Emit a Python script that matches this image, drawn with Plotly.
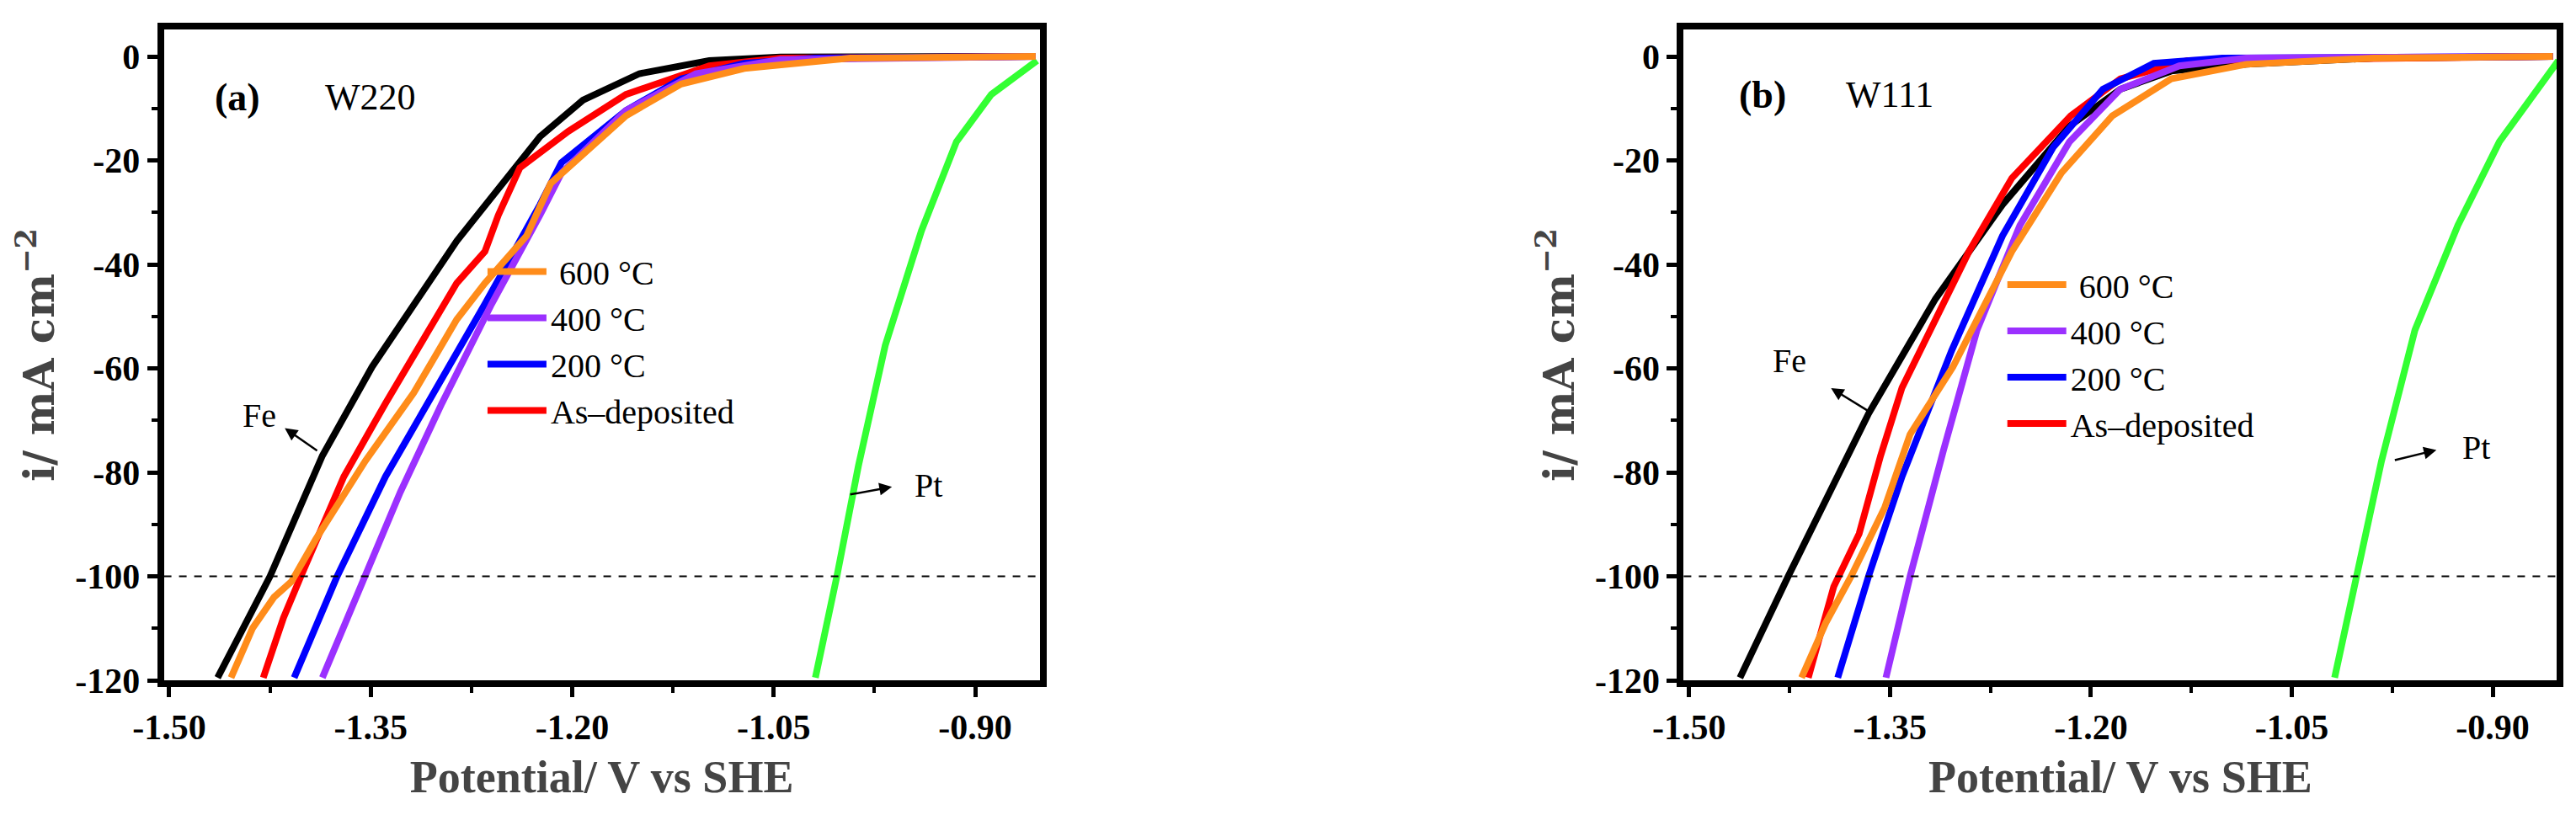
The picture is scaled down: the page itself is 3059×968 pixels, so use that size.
import plotly.graph_objects as go
from plotly.subplots import make_subplots

# panel (a) W220
a_fe_x = [-1.464, -1.425, -1.386, -1.349, -1.286, -1.224, -1.192, -1.150, -1.098, -1.045, -0.855]
a_fe_y = [-119.5, -100, -76.8, -59.7, -35.5, -15.4, -8.4, -3.3, -0.8, -0.1, 0]
a_red_x = [-1.430, -1.415, -1.402, -1.388, -1.370, -1.339, -1.307, -1.286, -1.265, -1.255, -1.239, -1.203, -1.160, -1.098, -1.045, -0.855]
a_red_y = [-119.5, -108, -100, -91.8, -80.8, -66.7, -52.6, -43.6, -37.5, -30.5, -21.4, -14.4, -7.3, -1.8, -0.3, 0]
a_or_x = [-1.454, -1.438, -1.422, -1.409, -1.391, -1.354, -1.318, -1.286, -1.265, -1.234, -1.216, -1.203, -1.160, -1.119, -1.072, -0.993, -0.855]
a_or_y = [-119.5, -110, -104, -101, -92.9, -77.8, -64.7, -50.6, -43.6, -34.5, -24.4, -21.4, -11.4, -5.3, -2.3, -0.3, 0]
a_bl_x = [-1.407, -1.375, -1.339, -1.307, -1.265, -1.224, -1.208, -1.160, -1.119, -1.072, -1.019, -0.855]
a_bl_y = [-119.5, -100, -80.8, -66.7, -47.6, -28.5, -20.4, -10.4, -4.3, -1.3, -0.3, 0]
a_pu_x = [-1.386, -1.354, -1.328, -1.297, -1.260, -1.224, -1.208, -1.160, -1.108, -1.045, -0.855]
a_pu_y = [-119.5, -100, -83.8, -66.7, -47.6, -30.5, -22.4, -10.4, -3.3, -0.6, 0]
a_pt_x = [-1.019, -1.003, -0.987, -0.967, -0.940, -0.914, -0.888, -0.854]
a_pt_y = [-119.5, -100, -78.8, -55.6, -33.5, -16.4, -7.3, -0.8]

# panel (b) W111
b_fe_x = [-1.462, -1.426, -1.366, -1.316, -1.266, -1.216, -1.178, -1.140, -1.084, -0.989, -0.855]
b_fe_y = [-119.5, -100, -68.7, -46.6, -28.5, -13.4, -6.3, -2.8, -1.5, -0.3, 0]
b_red_x = [-1.411, -1.392, -1.373, -1.357, -1.341, -1.316, -1.291, -1.259, -1.215, -1.178, -1.128, -0.855]
b_red_y = [-119.5, -102, -91.8, -76.8, -63.7, -50.6, -37.5, -23.4, -11.4, -4.3, -0.8, 0]
b_or_x = [-1.416, -1.398, -1.379, -1.354, -1.335, -1.303, -1.259, -1.222, -1.184, -1.140, -1.084, -0.989, -0.855]
b_or_y = [-119.5, -109, -100, -86.8, -72.7, -59.7, -37.5, -22.4, -11.4, -4.3, -1.5, -0.3, 0]
b_bl_x = [-1.389, -1.366, -1.341, -1.304, -1.266, -1.228, -1.191, -1.153, -1.102, -0.855]
b_bl_y = [-119.5, -100, -80.8, -56.6, -34.5, -17.4, -6.3, -1.3, -0.3, 0]
b_pu_x = [-1.353, -1.335, -1.310, -1.285, -1.253, -1.216, -1.178, -1.134, -1.084, -0.855]
b_pu_y = [-119.5, -100, -75.7, -52.6, -32.5, -16.4, -6.3, -1.8, -0.3, 0]
b_pt_x = [-1.018, -1.002, -0.983, -0.958, -0.926, -0.895, -0.851]
b_pt_y = [-119.5, -100, -77.8, -52.6, -32.5, -16.4, -0.8]

legend_names = [" 600 \u00b0C", "400 \u00b0C", "200 \u00b0C", "As\u2013deposited"]
xtick_vals = [-1.5, -1.35, -1.2, -1.05, -0.9]
xtick_text = ["-1.50", "-1.35", "-1.20", "-1.05", "-0.90"]
ytick_vals = [0, -20, -40, -60, -80, -100, -120]
ytick_text = ["0", "-20", "-40", "-60", "-80", "-100", "-120"]
FONT = "Liberation Serif"

fig = make_subplots(rows=1, cols=2)
fig.update_layout(xaxis=dict(domain=[0.061, 0.401]), xaxis2=dict(domain=[0.651, 0.990]))

panels = [
    (1, "legend", [(a_fe_x, a_fe_y, "black", None), (a_pt_x, a_pt_y, "#33ff33", None),
                   (a_red_x, a_red_y, "red", 3), (a_bl_x, a_bl_y, "blue", 2),
                   (a_pu_x, a_pu_y, "#9b30ff", 1), (a_or_x, a_or_y, "#ff8c1a", 0)]),
    (2, "legend2", [(b_fe_x, b_fe_y, "black", None), (b_pt_x, b_pt_y, "#33ff33", None),
                    (b_red_x, b_red_y, "red", 3), (b_bl_x, b_bl_y, "blue", 2),
                    (b_pu_x, b_pu_y, "#9b30ff", 1), (b_or_x, b_or_y, "#ff8c1a", 0)]),
]
for col, leg, series in panels:
    for x, y, c, li in series:
        fig.add_trace(go.Scatter(
            x=x, y=y, mode="lines", line=dict(color=c, width=8),
            name=legend_names[li] if li is not None else "",
            showlegend=li is not None, legend=leg, legendrank=li if li is not None else 0,
        ), row=1, col=col)
    fig.add_hline(y=-100, line=dict(color="black", width=2, dash="dash"), row=1, col=col)

axfont = dict(family=FONT, size=42, color="black", weight="bold")
fig.update_xaxes(range=[-1.504, -0.852], tickvals=xtick_vals, ticktext=xtick_text,
                 showline=True, linecolor="black", linewidth=8, mirror=True,
                 ticks="outside", ticklen=12, tickwidth=5, tickcolor="black",
                 minor=dict(ticks="outside", ticklen=7, tickwidth=4, dtick=0.075, tick0=-1.5),
                 showgrid=False, zeroline=False, tickfont=axfont,
                 title=dict(text="Potential/ V vs SHE", standoff=20,
                            font=dict(family=FONT, size=54, weight="bold")))
fig.update_yaxes(range=[-120, 5.2], tickvals=ytick_vals, ticktext=ytick_text,
                 showline=True, linecolor="black", linewidth=8, mirror=True,
                 ticks="outside", ticklen=12, tickwidth=5, tickcolor="black",
                 minor=dict(ticks="outside", ticklen=7, tickwidth=4, dtick=10),
                 showgrid=False, zeroline=False, tickfont=axfont,
                 title=dict(text="i/ mA cm<sup>\u22122</sup>", standoff=12,
                            font=dict(family="DejaVu Serif", size=50, weight="bold")))

legfont = dict(family=FONT, size=40, color="black")
fig.update_layout(
    template="none", plot_bgcolor="white", paper_bgcolor="white",
    width=3059, height=968, margin=dict(l=0, r=0, t=27, b=168),
    legend=dict(x=0.185, y=0.67, xanchor="left", yanchor="top", bgcolor="rgba(0,0,0,0)",
                font=legfont, tracegroupgap=0, itemwidth=70),
    legend2=dict(x=0.775, y=0.65, xanchor="left", yanchor="top", bgcolor="rgba(0,0,0,0)",
                 font=legfont, tracegroupgap=0, itemwidth=70),
)

anns = [
    ("x", "y", -1.449, -7.8, "(a)", True), ("x", "y", -1.350, -7.8, "W220", False),
    ("x2", "y2", -1.445, -7.3, "(b)", True), ("x2", "y2", -1.350, -7.3, "W111", False),
    ("x", "y", -1.433, -69, "Fe", False), ("x", "y", -0.935, -82.5, "Pt", False),
    ("x2", "y2", -1.425, -58.6, "Fe", False), ("x2", "y2", -0.912, -75.2, "Pt", False),
]
for xr, yr, x, y, t, bold in anns:
    fig.add_annotation(xref=xr, yref=yr, x=x, y=y, text=t, showarrow=False,
                       font=dict(family=FONT, size=46 if bold else 44 if t[0] == "W" else 40,
                                 color="black", weight="bold" if bold else "normal"))

arrows = [
    ("x", "y", -1.414, -71.5, -1.389, -76), ("x", "y", -0.962, -82.8, -0.994, -84.3),
    ("x2", "y2", -1.394, -63.8, -1.363, -68.7), ("x2", "y2", -0.942, -75.7, -0.974, -77.7),
]
for xr, yr, hx, hy, tx, ty in arrows:
    fig.add_annotation(xref=xr, yref=yr, axref=xr, ayref=yr, x=hx, y=hy, ax=tx, ay=ty,
                       text="", showarrow=True, arrowhead=2, arrowsize=1.2, arrowwidth=2.5,
                       arrowcolor="black")

fig.write_html("out.html")
